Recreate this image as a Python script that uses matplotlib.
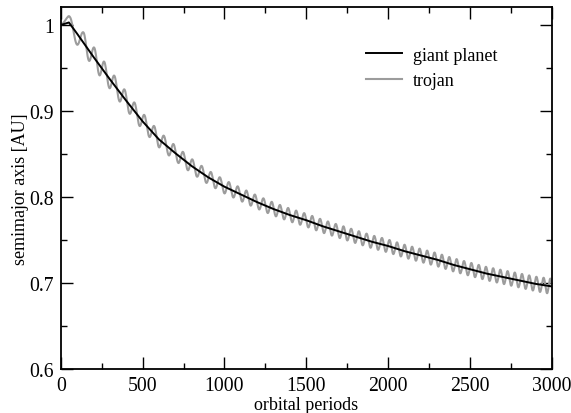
import numpy as np
import matplotlib
matplotlib.use("Agg")
import matplotlib.pyplot as plt
from matplotlib.ticker import MultipleLocator

# Semimajor axis of the giant planet [AU] versus time [orbital periods]
planet_t = [0, 50, 100, 200, 300, 400, 500, 600, 700, 800, 900, 1000,
            1100, 1200, 1300, 1400, 1500, 1600, 1700, 1800, 1900, 2000,
            2100, 2200, 2300, 2400, 2500, 2600, 2700, 2800, 2900, 3000]
planet_a = [1.000, 1.003, 0.990, 0.963, 0.937, 0.912, 0.888, 0.867, 0.851,
            0.836, 0.823, 0.812, 0.803, 0.794, 0.786, 0.779, 0.773, 0.766,
            0.760, 0.754, 0.748, 0.743, 0.737, 0.732, 0.727, 0.721, 0.716,
            0.711, 0.707, 0.703, 0.699, 0.696]

# Trojan libration: times of the maxima / minima of its semimajor axis and
# the offset from the planet's semimajor axis at those times [AU]
trojan_peak_t = [57, 140, 205, 266, 328, 390, 451, 511, 571, 630,
                 689, 747, 804, 861, 917, 972, 1027, 1081, 1134, 1186,
                 1238, 1289, 1339, 1389, 1438, 1487, 1536, 1584, 1632, 1680,
                 1727, 1774, 1821, 1868, 1915, 1962, 2008, 2054, 2100, 2146,
                 2192, 2238, 2283, 2328, 2373, 2418, 2463, 2508, 2553, 2597,
                 2641, 2685, 2729, 2773, 2817, 2861, 2905, 2949, 2990]
trojan_peak_da = [0.008, 0.012, 0.012, 0.0115, 0.011, 0.0105, 0.010, 0.0097, 0.0094, 0.0091,
                  0.0088, 0.0085, 0.0083, 0.0081, 0.008, 0.0079, 0.0078, 0.0077, 0.0076, 0.0076,
                  0.0075, 0.0075, 0.0075, 0.0075, 0.0075, 0.0075, 0.0075, 0.0075, 0.0075, 0.0075,
                  0.0075, 0.0075, 0.0075, 0.0075, 0.0075, 0.0075, 0.0075, 0.0075, 0.0075, 0.0075,
                  0.0076, 0.0076, 0.0076, 0.0076, 0.0076, 0.0077, 0.0077, 0.0077, 0.0077, 0.0077,
                  0.0078, 0.0079, 0.008, 0.0081, 0.0082, 0.0083, 0.0084, 0.0086, 0.0088]
trojan_trough_t = [0, 98, 172, 236, 297, 359, 420, 481, 541, 600,
                   660, 718, 776, 832, 889, 944, 1000, 1054, 1108, 1160,
                   1212, 1264, 1314, 1364, 1414, 1462, 1512, 1560, 1608, 1656,
                   1704, 1750, 1798, 1844, 1892, 1938, 1985, 2031, 2077, 2123,
                   2169, 2215, 2260, 2306, 2350, 2396, 2440, 2486, 2530, 2575,
                   2619, 2663, 2707, 2751, 2795, 2839, 2883, 2927, 2970, 3011]
trojan_trough_da = [0.0, -0.013, -0.012, -0.012, -0.011, -0.011, -0.0102, -0.0098, -0.0095, -0.0092,
                    -0.009, -0.0087, -0.0084, -0.0082, -0.008, -0.0079, -0.0078, -0.0077, -0.0076, -0.0076,
                    -0.0075, -0.0075, -0.0075, -0.0075, -0.0075, -0.0075, -0.0075, -0.0075, -0.0075, -0.0075,
                    -0.0075, -0.0075, -0.0075, -0.0075, -0.0075, -0.0075, -0.0075, -0.0075, -0.0075, -0.0075,
                    -0.0076, -0.0076, -0.0076, -0.0076, -0.0076, -0.0077, -0.0077, -0.0077, -0.0077, -0.0077,
                    -0.0078, -0.0079, -0.008, -0.0081, -0.0082, -0.0083, -0.0084, -0.0086, -0.0088, -0.009]

x_ticks = [0, 500, 1000, 1500, 2000, 2500, 3000]
x_labels = ["0", "500", "1000", "1500", "2000", "2500", "3000"]
y_ticks = [0.6, 0.7, 0.8, 0.9, 1.0]
y_labels = ["0.6", "0.7", "0.8", "0.9", "1"]

plt.rcParams["font.family"] = ["Liberation Serif", "DejaVu Serif"]
plt.rcParams["font.size"] = 13

# Trojan curve: smooth half-cosine swings between successive extrema
ext = sorted(zip(trojan_peak_t + trojan_trough_t, trojan_peak_da + trojan_trough_da))
tt, aa = [], []
for (t0, d0), (t1, d1) in zip(ext[:-1], ext[1:]):
    u = np.linspace(0.0, 1.0, 12, endpoint=False)
    s = 0.5 * (1.0 - np.cos(np.pi * u))
    t = t0 + (t1 - t0) * u
    tt.append(t)
    aa.append(np.interp(t, planet_t, planet_a) + d0 + (d1 - d0) * s)
tt.append([ext[-1][0]])
aa.append([np.interp(ext[-1][0], planet_t, planet_a) + ext[-1][1]])
trojan_t = np.concatenate(tt)
trojan_a = np.concatenate(aa)

fig = plt.figure(figsize=(5.71, 4.14), dpi=100)
ax = fig.add_axes([0.1063, 0.1063, 0.8604, 0.8744])

ax.plot(trojan_t, trojan_a, color="#9c9c9c", lw=1.5, label="trojan", zorder=2)
ax.plot(planet_t, planet_a, color="black", lw=1.4, label="giant planet", zorder=3)

ax.set_xlim(0, 3000)
ax.set_ylim(0.6, 1.021)
ax.set_xticks(x_ticks)
ax.set_xticklabels(x_labels, fontsize=14.2)
ax.set_yticks(y_ticks)
ax.set_yticklabels(y_labels, fontsize=14.2)
ax.xaxis.set_minor_locator(MultipleLocator(250))
ax.yaxis.set_minor_locator(MultipleLocator(0.05))
ax.tick_params(which="both", direction="in", top=True, right=True, width=1.0)
ax.tick_params(which="major", length=8.6)
ax.tick_params(which="minor", length=4.1)
ax.tick_params(axis="x", which="major", pad=5)
ax.tick_params(axis="y", which="major", pad=5)
for sp in ax.spines.values():
    sp.set_linewidth(1.3)

ax.set_xlabel("orbital periods", labelpad=1, fontsize=13)
ax.set_ylabel("semimajor axis [AU]", labelpad=0, fontsize=13)

h, l = ax.get_legend_handles_labels()
ax.legend(h[::-1], l[::-1], loc="upper left", bbox_to_anchor=(0.595, 0.925),
          frameon=False, handlelength=2.0, handletextpad=0.6,
          labelspacing=0.45, borderpad=0.2, fontsize=13)

fig.savefig("out.png", dpi=100)
